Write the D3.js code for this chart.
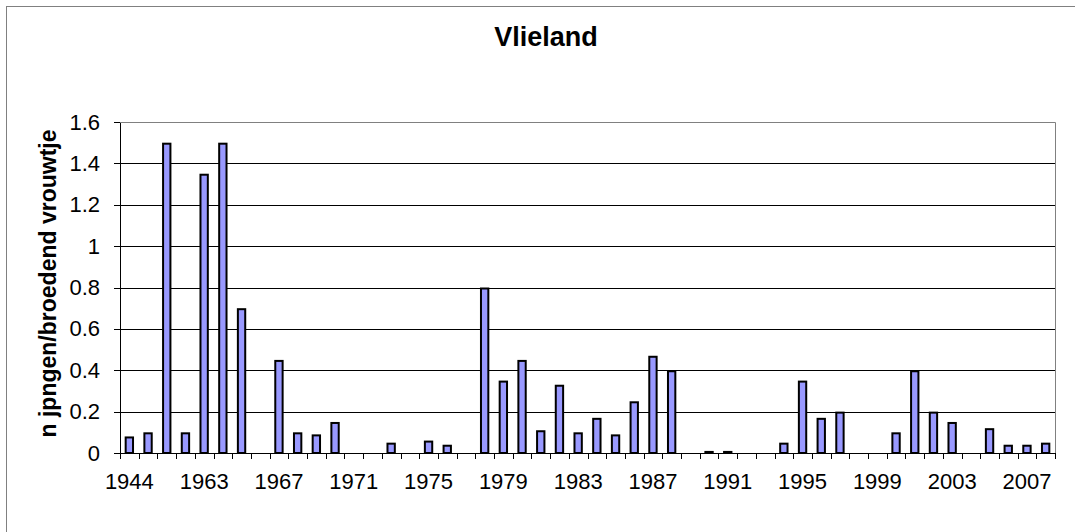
<!DOCTYPE html>
<html lang="en">

<head>
    <meta charset="utf-8">
    <title>Vlieland</title>
    <style media="screen" type="text/css">
        html, body {
            margin: 0;
            padding: 0;
            background: #fff;
        }
        svg {
            display: block;
            font-family: "Liberation Sans", Arial, sans-serif;
        }
        .axis path, .axis line {
            stroke: #000;
            shape-rendering: crispEdges;
        }
        .grid line {
            stroke: #000;
            shape-rendering: crispEdges;
        }
        .grid path {
            display: none;
        }
    </style>
</head>

<body>
    <svg id="chart"></svg>
    <script src="https://cdnjs.cloudflare.com/ajax/libs/d3/7.8.5/d3.min.js"></script>
    <script>
        // years on the category axis (only every 4th one is labelled)
        var years = ["1944", "1950", "1956", "1960",
            "1963", "1964", "1965", "1966", "1967", "1968", "1969", "1970",
            "1971", "1972", "1973", "1974", "1975", "1976", "1977", "1978",
            "1979", "1980", "1981", "1982", "1983", "1984", "1985", "1986",
            "1987", "1988", "1989", "1990", "1991", "1992", "1993", "1994",
            "1995", "1996", "1997", "1998", "1999", "2000", "2001", "2002",
            "2003", "2004", "2005", "2006", "2007", "2008"];

        // n jongen per broedend vrouwtje
        var values = [0.08, 0.10, 1.50, 0.10,
            1.35, 1.50, 0.70, 0, 0.45, 0.10, 0.09, 0.15,
            0, 0, 0.05, 0, 0.06, 0.04, 0, 0.80,
            0.35, 0.45, 0.11, 0.33, 0.10, 0.17, 0.09, 0.25,
            0.47, 0.40, 0, 0.01, 0.01, 0, 0, 0.05,
            0.35, 0.17, 0.20, 0, 0, 0.10, 0.40, 0.20,
            0.15, 0, 0.12, 0.04, 0.04, 0.05];

        var yTicks = [0, 0.2, 0.4, 0.6, 0.8, 1, 1.2, 1.4, 1.6];

        var W = 1075, H = 532;
        var pLeft = 120, pRight = 1055, pTop = 122, pBottom = 453;

        var svg = d3.select("#chart")
            .attr("width", W)
            .attr("height", H);

        // outer chart frame (only left and top edges fall in the window)
        svg.append("rect")
            .attr("x", 6.5)
            .attr("y", 6.5)
            .attr("width", 1081)
            .attr("height", 540)
            .attr("fill", "#fff")
            .attr("stroke", "#808080")
            .attr("stroke-width", 1);

        var x = d3.scaleBand()
            .domain(years)
            .range([pLeft, pRight])
            .paddingInner(0.5)
            .paddingOuter(0.25);

        var xIdx = d3.scaleLinear()
            .domain([0, years.length])
            .range([pLeft, pRight]);

        var y = d3.scaleLinear()
            .domain([0, 1.6])
            .range([pBottom, pTop]);

        // gridlines
        svg.append("g")
            .attr("class", "grid")
            .attr("transform", "translate(" + pLeft + ",0)")
            .call(d3.axisLeft(y)
                .tickValues(yTicks.slice(1, -1))
                .tickSize(-(pRight - pLeft))
                .tickFormat(""));

        // plot border (top + right)
        svg.append("path")
            .attr("d", "M" + pLeft + "," + (pTop + 0.5) + "H" + (pRight + 0.5) + "V" + pBottom)
            .attr("fill", "none")
            .attr("stroke", "#808080")
            .attr("stroke-width", 1);

        // bars
        svg.selectAll("rect.bar")
            .data(values)
            .enter()
            .append("rect")
            .attr("class", "bar")
            .attr("x", function(d, i) {
                return x(years[i]) + 1;
            })
            .attr("y", function(d) {
                return y(d) + 1;
            })
            .attr("width", x.bandwidth() - 2)
            .attr("height", function(d) {
                return Math.max(0, pBottom - y(d) - 1);
            })
            .attr("fill", "#9999ff")
            .attr("stroke", "#000")
            .attr("stroke-width", 2)
            .style("display", function(d) {
                return d > 0 ? null : "none";
            });

        // x axis: ticks between categories
        svg.append("g")
            .attr("class", "axis")
            .attr("transform", "translate(0," + pBottom + ")")
            .call(d3.axisBottom(xIdx)
                .tickValues(d3.range(years.length + 1))
                .tickSize(6)
                .tickSizeOuter(0)
                .tickFormat(""));

        // x axis labels, every 4th category
        var xLab = svg.append("g")
            .attr("transform", "translate(0," + pBottom + ")")
            .call(d3.axisBottom(x)
                .tickValues(years.filter(function(d, i) { return i % 4 === 0; }))
                .tickSize(0)
                .tickPadding(0));
        xLab.select(".domain").remove();
        xLab.selectAll("text")
            .attr("y", 36)
            .attr("dy", null)
            .attr("font-size", "22px")
            .attr("font-family", "Liberation Sans, Arial, sans-serif")
            .attr("fill", "#000");

        // y axis
        var yAx = svg.append("g")
            .attr("class", "axis")
            .attr("transform", "translate(" + pLeft + ",0)")
            .call(d3.axisLeft(y)
                .tickValues(yTicks)
                .tickSize(6)
                .tickSizeOuter(0)
                .tickPadding(14)
                .tickFormat(function(d) {
                    return String(+d.toFixed(1));
                }));
        yAx.selectAll("text")
            .attr("font-size", "22px")
            .attr("font-family", "Liberation Sans, Arial, sans-serif")
            .attr("fill", "#000");

        // title
        svg.append("text")
            .attr("x", 546)
            .attr("y", 46)
            .attr("text-anchor", "middle")
            .attr("font-size", "27px")
            .attr("font-weight", "bold")
            .text("Vlieland");

        // y axis title
        svg.append("text")
            .attr("transform", "translate(56," + ((pTop + pBottom) / 2 - 4) + ") rotate(-90)")
            .attr("text-anchor", "middle")
            .attr("font-size", "23px")
            .attr("font-weight", "bold")
            .text("n jpngen/broedend vrouwtje");
    </script>
</body>

</html>
